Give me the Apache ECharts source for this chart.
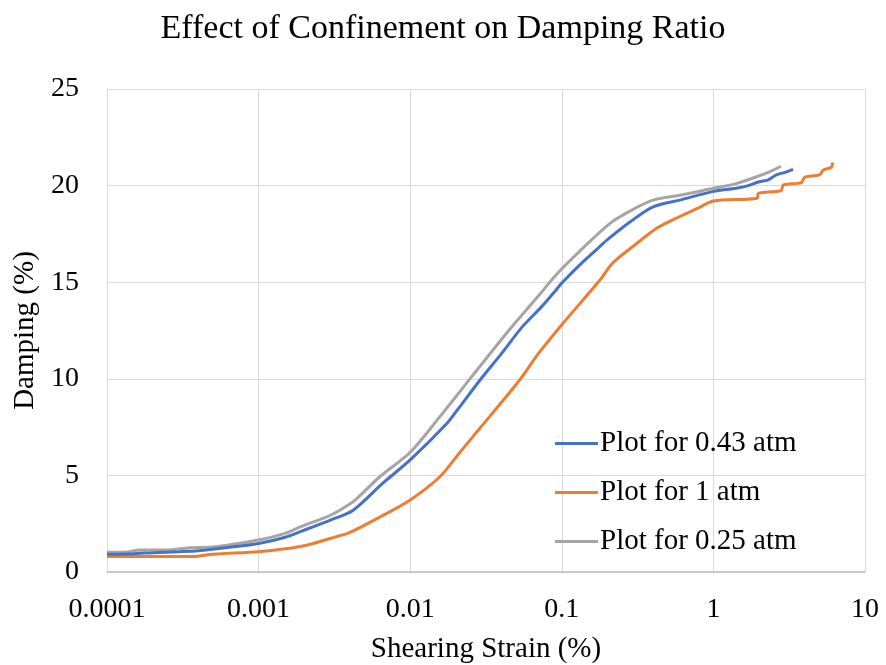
<!DOCTYPE html>
<html>
<head>
<meta charset="utf-8">
<script src="https://cdn.jsdelivr.net/npm/echarts@6/dist/echarts.min.js"></script>
<style>
  html, body { margin: 0; padding: 0; background: #fff; }
  #chart { width: 886px; height: 665px; }
</style>
</head>
<body>
<div id="chart"></div>
<script>
// Shearing strain (%) and damping (%) for each confining pressure
const strain043 = [0.0001, 0.00015, 0.0002, 0.0003, 0.0004, 0.0006, 0.001, 0.0015, 0.0019, 0.003, 0.0042, 0.0066, 0.01, 0.0175, 0.0203, 0.0289, 0.04, 0.055, 0.075, 0.0928, 0.1, 0.14, 0.17, 0.2, 0.28, 0.4, 0.6, 1.0, 1.41, 1.7, 2.0, 2.3, 2.6, 3.0, 3.35];
const damping043 = [0.92, 0.95, 1.0, 1.05, 1.1, 1.25, 1.48, 1.8, 2.1, 2.7, 3.2, 4.6, 5.8, 7.7, 8.35, 9.94, 11.3, 12.7, 13.8, 14.65, 14.96, 16.1, 16.7, 17.2, 18.1, 18.9, 19.25, 19.7, 19.86, 20.0, 20.2, 20.3, 20.55, 20.7, 20.84];

const strain1 = [0.0001, 0.0002, 0.00037, 0.0005, 0.001, 0.0015, 0.0021, 0.003, 0.004, 0.0065, 0.01, 0.0157, 0.0213, 0.0289, 0.0527, 0.07, 0.1, 0.178, 0.217, 0.3, 0.425, 0.6, 0.8, 1.0, 1.94, 1.98, 2.79, 2.9, 3.8, 4.0, 5.0, 5.3, 6.0, 6.1];
const damping1 = [0.8, 0.8, 0.8, 0.92, 1.05, 1.2, 1.4, 1.75, 2.05, 2.9, 3.73, 4.93, 6.2, 7.45, 9.94, 11.3, 12.8, 15.1, 16.0, 16.9, 17.8, 18.4, 18.85, 19.2, 19.35, 19.6, 19.74, 20.03, 20.15, 20.43, 20.55, 20.8, 20.95, 21.2];

const strain025 = [0.0001, 0.00013, 0.000165, 0.00025, 0.00035, 0.0005, 0.001, 0.0015, 0.0019, 0.003, 0.0042, 0.0047, 0.0063, 0.01, 0.0157, 0.026, 0.0436, 0.072, 0.0876, 0.1, 0.131, 0.209, 0.3, 0.4, 0.6, 1.0, 1.41, 2.0, 2.4, 2.79];
const damping025 = [1.02, 1.02, 1.14, 1.14, 1.26, 1.3, 1.66, 2.0, 2.35, 2.95, 3.64, 3.98, 4.93, 6.2, 8.04, 10.2, 12.4, 14.4, 15.2, 15.7, 16.6, 18.06, 18.8, 19.25, 19.5, 19.86, 20.1, 20.5, 20.75, 21.0];

const seriesNames = ['Plot for 0.43 atm', 'Plot for 1 atm', 'Plot for 0.25 atm'];
const seriesColors = ['#4472C4', '#ED7D31', '#A5A5A5'];
const xTickLabels = { '0.0001': '0.0001', '0.001': '0.001', '0.01': '0.01', '0.1': '0.1', '1': '1', '10': '10' };

const FONT = 'Liberation Serif, Times New Roman, serif';

function pairs(xs, ys) {
  return xs.map((x, i) => [x, ys[i]]);
}

const seriesData = [pairs(strain043, damping043), pairs(strain1, damping1), pairs(strain025, damping025)];

const chart = echarts.init(document.getElementById('chart'), null, { renderer: 'canvas' });

chart.setOption({
  animation: false,
  backgroundColor: '#fff',
  title: {
    text: 'Effect of Confinement on Damping Ratio',
    left: 'center',
    top: 7,
    textStyle: { fontFamily: FONT, fontSize: 34, fontWeight: 'normal', color: '#000' }
  },
  grid: { left: 107, right: 21, top: 89, bottom: 93, containLabel: false, outerBoundsMode: 'none' },
  legend: {
    orient: 'vertical',
    left: 550,
    top: 424,
    itemWidth: 43,
    itemHeight: 3,
    itemGap: 20,
    icon: 'rect',
    data: seriesNames,
    textStyle: { fontFamily: FONT, fontSize: 29, color: '#000', lineHeight: 29, padding: [0, 0, 0, -3] }
  },
  xAxis: {
    type: 'log',
    logBase: 10,
    min: 0.0001,
    max: 10,
    name: 'Shearing Strain (%)',
    nameLocation: 'middle',
    nameGap: 63,
    nameTextStyle: { fontFamily: FONT, fontSize: 29, color: '#000' },
    axisLine: { show: true, lineStyle: { color: '#BFBFBF', width: 1.5 } },
    axisTick: { show: false },
    axisLabel: {
      fontFamily: FONT, fontSize: 28, color: '#000', margin: 24,
      formatter: v => {
        const key = String(Number(v.toPrecision(6)));
        return xTickLabels[key] !== undefined ? xTickLabels[key] : '';
      }
    },
    splitLine: { show: true, lineStyle: { color: '#D9D9D9', width: 1 } },
    minorTick: { show: false },
    minorSplitLine: { show: false }
  },
  yAxis: {
    type: 'value',
    min: 0,
    max: 25,
    interval: 5,
    name: 'Damping (%)',
    nameLocation: 'middle',
    nameGap: 54,
    nameTextStyle: { fontFamily: FONT, fontSize: 29, color: '#000' },
    axisLine: { show: false },
    axisTick: { show: false },
    axisLabel: { fontFamily: FONT, fontSize: 28, color: '#000', margin: 28 },
    splitLine: { show: true, lineStyle: { color: '#D9D9D9', width: 1 } }
  },
  series: seriesNames.map((name, i) => ({
    name: name,
    type: 'line',
    data: seriesData[i],
    showSymbol: false,
    symbol: 'none',
    smooth: 0.3,
    lineStyle: { color: seriesColors[i], width: 3 },
    itemStyle: { color: seriesColors[i] },
    z: 3 - i
  }))
});
</script>
</body>
</html>
